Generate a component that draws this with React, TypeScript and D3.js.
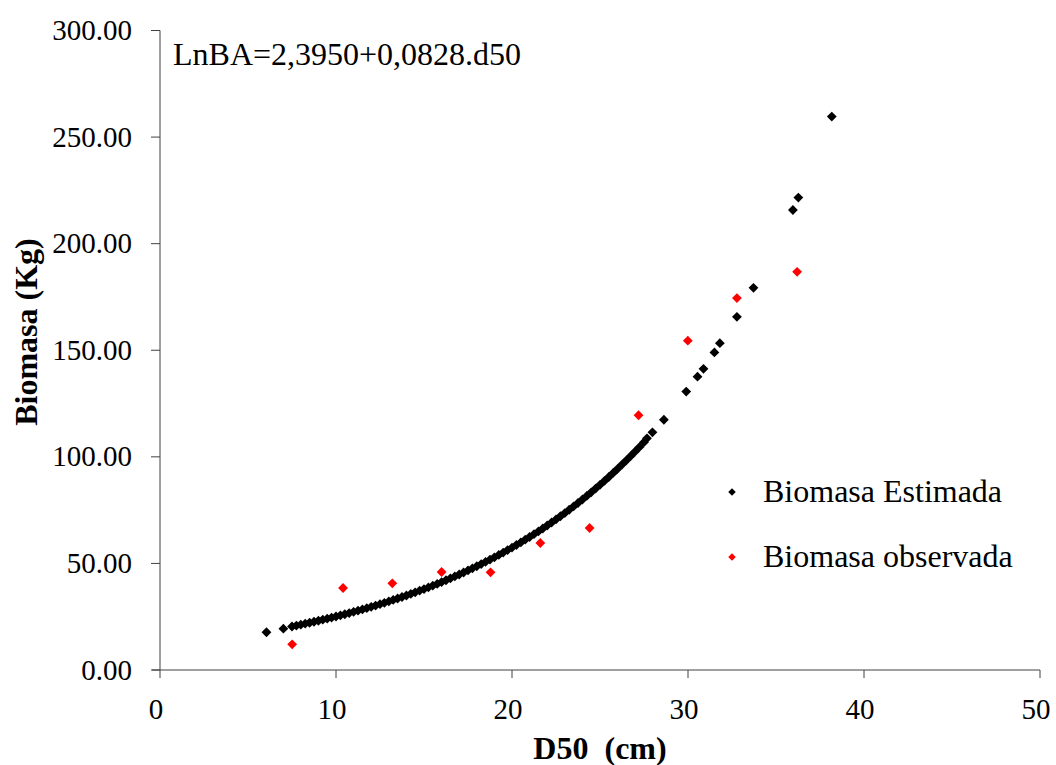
import React from "react";
import * as d3 from "d3";

// Biomasa Estimada (black)
const estX = [6.05, 7.01, 7.5, 7.75, 8, 8.25, 8.5, 8.75, 9, 9.25, 9.5, 9.75, 10, 10.25, 10.5, 10.75, 11, 11.25, 11.5, 11.75, 12, 12.25, 12.5, 12.75, 13, 13.25, 13.5, 13.75, 14, 14.25, 14.5, 14.75, 15, 15.25, 15.5, 15.75, 16, 16.25, 16.5, 16.75, 17, 17.25, 17.5, 17.75, 18, 18.25, 18.5, 18.75, 19, 19.25, 19.5, 19.75, 20, 20.25, 20.5, 20.75, 21, 21.25, 21.5, 21.75, 22, 22.25, 22.5, 22.75, 23, 23.25, 23.5, 23.75, 24, 24.25, 24.5, 24.75, 25, 25.25, 25.5, 25.75, 26, 26.25, 26.5, 26.75, 27, 27.25, 27.5, 27.67, 27.98, 28.63, 29.9, 30.54, 30.88, 31.5, 31.81, 32.78, 33.72, 35.96, 36.27, 38.17];
const estY = [17.7, 19.4, 20.41, 20.84, 21.27, 21.71, 22.17, 22.63, 23.11, 23.59, 24.09, 24.59, 25.1, 25.63, 26.16, 26.71, 27.27, 27.84, 28.42, 29.02, 29.62, 30.24, 30.87, 31.52, 32.18, 32.85, 33.54, 34.24, 34.95, 35.68, 36.43, 37.19, 37.97, 38.76, 39.58, 40.4, 41.25, 42.11, 42.99, 43.89, 44.81, 45.75, 46.7, 47.68, 48.67, 49.69, 50.73, 51.79, 52.87, 53.98, 55.1, 56.26, 57.44, 58.64, 59.87, 61.12, 62.39, 63.7, 65.03, 66.39, 67.78, 69.2, 70.65, 72.13, 73.63, 75.17, 76.74, 78.35, 79.98, 81.66, 83.36, 85.11, 86.88, 88.7, 90.55, 92.45, 94.38, 96.35, 98.37, 100.43, 102.53, 104.67, 106.86, 108.7, 111.5, 117.4, 130.6, 137.6, 141.3, 149.0, 153.3, 165.7, 179.3, 215.8, 221.6, 259.6];

// Biomasa observada (red)
const obsX = [7.51, 10.4, 13.2, 16.0, 18.78, 21.61, 24.41, 27.19, 29.99, 32.78, 36.2];
const obsY = [12.06, 38.47, 40.67, 45.97, 45.83, 59.58, 66.61, 119.5, 154.5, 174.5, 186.8];

const xTicks = [0, 10, 20, 30, 40, 50];
const yTicks = [0, 50, 100, 150, 200, 250, 300];

const seriesNames = ["Biomasa Estimada", "Biomasa observada"];
const equation = "LnBA=2,3950+0,0828.d50";
const xTitle = "D50  (cm)";
const yTitle = "Biomasa (Kg)";

const FONT = '"Liberation Serif", "Times New Roman", Times, serif';

export default function App() {
  const x = d3.scaleLinear().domain([0, 50]).range([160, 1040]);
  const y = d3.scaleLinear().domain([0, 300]).range([670, 30.5]);
  const diamond = d3.symbol().type(d3.symbolSquare).size(48)() as string;
  const legendDiamond = d3.symbol().type(d3.symbolSquare).size(28)() as string;
  const axisColor = "#404040";
  const ts: React.CSSProperties = { fontFamily: FONT, whiteSpace: "pre" };

  return (
    <svg
      width={1056}
      height={765}
      style={{ position: "absolute", left: 0, top: 0, background: "#fff", fontFamily: FONT }}
    >
      <rect width={1056} height={765} fill="#fff" />
      {/* axes */}
      <line x1={x(0)} x2={x(0)} y1={y(0)} y2={y(300)} stroke={axisColor} strokeWidth={1} />
      <line x1={x(0) - 8} x2={x(50)} y1={y(0)} y2={y(0)} stroke={axisColor} strokeWidth={1} />
      {yTicks.map((t) => (
        <g key={"y" + t}>
          <line x1={x(0) - 9} x2={x(0)} y1={y(t)} y2={y(t)} stroke={axisColor} />
          <text x={132} y={y(t) + 9.5} textAnchor="end" fontSize={29} fill="#000" style={ts}>
            {d3.format(".2f")(t)}
          </text>
        </g>
      ))}
      {xTicks.map((t) => (
        <g key={"x" + t}>
          <line x1={x(t)} x2={x(t)} y1={y(0)} y2={y(0) + 8} stroke={axisColor} />
          <text x={x(t) - 4} y={719} textAnchor="middle" fontSize={29} fill="#000" style={ts}>
            {t}
          </text>
        </g>
      ))}
      {/* titles */}
      <text x={600} y={759} textAnchor="middle" fontSize={32} fontWeight="bold" fill="#000" style={ts}>
        {xTitle}
      </text>
      <text
        transform="translate(37,332) rotate(-90)"
        textAnchor="middle"
        fontSize={32}
        fontWeight="bold"
        fill="#000"
        style={ts}
      >
        {yTitle}
      </text>
      <text x={173} y={65} fontSize={32} fill="#000" style={ts}>
        {equation}
      </text>
      {/* series */}
      {estX.map((v, i) => (
        <path
          key={"e" + i}
          d={diamond}
          transform={`translate(${x(v)},${y(estY[i])}) rotate(45)`}
          fill="#000"
        />
      ))}
      {obsX.map((v, i) => (
        <path
          key={"o" + i}
          d={diamond}
          transform={`translate(${x(v)},${y(obsY[i])}) rotate(45)`}
          fill="#ff0000"
        />
      ))}
      {/* legend */}
      <path d={legendDiamond} transform="translate(732,492) rotate(45)" fill="#000" />
      <text x={763} y={502} fontSize={32} fill="#000" style={ts}>
        {seriesNames[0]}
      </text>
      <path d={legendDiamond} transform="translate(732,557) rotate(45)" fill="#ff0000" />
      <text x={763} y={567} fontSize={32} fill="#000" style={ts}>
        {seriesNames[1]}
      </text>
    </svg>
  );
}
